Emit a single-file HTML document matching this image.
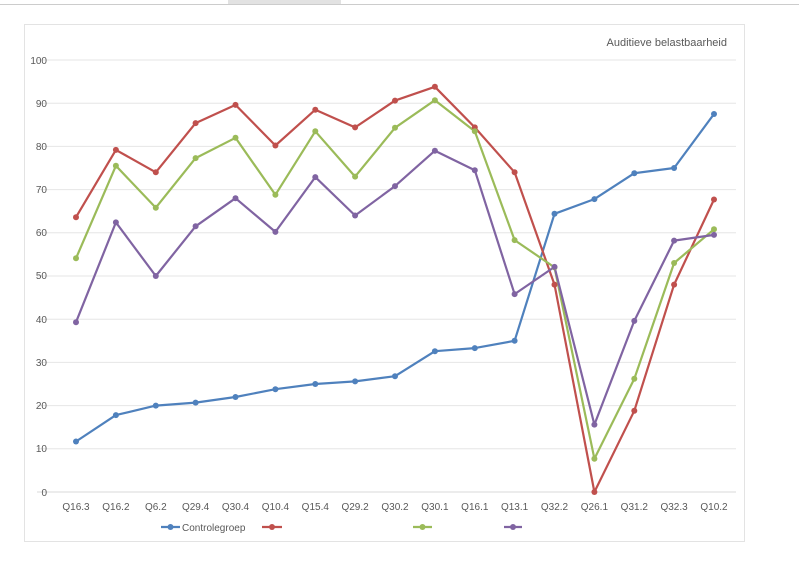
<!DOCTYPE html>
<html><head><meta charset="utf-8"><style>
body{margin:0;background:#fff;width:799px;height:566px;overflow:hidden}
svg{font-family:"Liberation Sans",sans-serif}
</style></head><body>
<svg width="799" height="566" viewBox="0 0 799 566" xmlns="http://www.w3.org/2000/svg">
<line x1="0" y1="4.5" x2="799" y2="4.5" stroke="#ccc" stroke-width="1"/>
<rect x="228" y="0" width="113" height="4" fill="#e2e2e2"/>
<rect x="24.5" y="24.5" width="720" height="517" fill="#fff" stroke="#e3e3e3"/>
<text x="727" y="46" font-size="11" fill="#595959" text-anchor="end">Auditieve belastbaarheid</text>
<g stroke="#e6e6e6" stroke-width="1">
<line x1="37" y1="60" x2="736" y2="60"/><line x1="37" y1="103.2" x2="736" y2="103.2"/>
<line x1="37" y1="146.4" x2="736" y2="146.4"/><line x1="37" y1="189.6" x2="736" y2="189.6"/>
<line x1="37" y1="232.8" x2="736" y2="232.8"/><line x1="37" y1="276" x2="736" y2="276"/>
<line x1="37" y1="319.2" x2="736" y2="319.2"/><line x1="37" y1="362.4" x2="736" y2="362.4"/>
<line x1="37" y1="405.6" x2="736" y2="405.6"/><line x1="37" y1="448.8" x2="736" y2="448.8"/>
<line x1="37" y1="492" x2="736" y2="492" stroke="#d9d9d9"/>
</g>
<g font-size="10" fill="#595959" text-anchor="end">
<text x="47" y="64">100</text><text x="47" y="107">90</text><text x="47" y="150">80</text>
<text x="47" y="193">70</text><text x="47" y="236">60</text><text x="47" y="279">50</text>
<text x="47" y="323">40</text><text x="47" y="366">30</text><text x="47" y="409">20</text>
<text x="47" y="452">10</text><text x="47" y="496">0</text>
</g>
<g font-size="10" fill="#595959" text-anchor="middle">
<text x="76" y="510">Q16.3</text><text x="115.9" y="510">Q16.2</text><text x="155.8" y="510">Q6.2</text>
<text x="195.6" y="510">Q29.4</text><text x="235.5" y="510">Q30.4</text><text x="275.4" y="510">Q10.4</text>
<text x="315.3" y="510">Q15.4</text><text x="355.1" y="510">Q29.2</text><text x="395" y="510">Q30.2</text>
<text x="434.9" y="510">Q30.1</text><text x="474.8" y="510">Q16.1</text><text x="514.6" y="510">Q13.1</text>
<text x="554.5" y="510">Q32.2</text><text x="594.4" y="510">Q26.1</text><text x="634.3" y="510">Q31.2</text>
<text x="674.1" y="510">Q32.3</text><text x="714" y="510">Q10.2</text>
</g>
<g fill="none" stroke-width="2.2" stroke-linejoin="round">
<polyline id="b" stroke="#4f81bd" points="76,441.5 115.9,415.1 155.8,405.6 195.6,402.6 235.5,397 275.4,389.2 315.3,384 355.1,381.4 395,376.2 434.9,351.2 474.8,348.1 514.6,340.8 554.5,213.8 594.4,199.1 634.3,173.2 674.1,168 714,114"/>
<polyline stroke="#c0504d" points="76,217.2 115.9,149.9 155.8,172.3 195.6,123.1 235.5,104.9 275.4,145.5 315.3,109.7 355.1,127.4 395,100.6 434.9,86.8 474.8,127.4 514.6,172.3 554.5,284.6 594.4,492 634.3,410.8 674.1,284.6 714,199.5"/>
<polyline stroke="#9bbb59" points="76,258.3 115.9,165.8 155.8,207.7 195.6,158.1 235.5,137.8 275.4,194.8 315.3,131.3 355.1,176.6 395,127.8 434.9,100.2 474.8,131.3 514.6,240.1 554.5,267.4 594.4,458.7 634.3,378.8 674.1,263 714,229.3"/>
<polyline stroke="#8064a2" points="76,322.2 115.9,222.4 155.8,276 195.6,226.3 235.5,198.2 275.4,231.9 315.3,177.1 355.1,215.5 395,186.1 434.9,150.7 474.8,170.2 514.6,294.1 554.5,266.9 594.4,424.6 634.3,320.9 674.1,240.6 714,234.9"/>
</g>
<g fill="#4f81bd"><circle cx="76" cy="441.5" r="3"/><circle cx="115.9" cy="415.1" r="3"/><circle cx="155.8" cy="405.6" r="3"/><circle cx="195.6" cy="402.6" r="3"/><circle cx="235.5" cy="397" r="3"/><circle cx="275.4" cy="389.2" r="3"/><circle cx="315.3" cy="384" r="3"/><circle cx="355.1" cy="381.4" r="3"/><circle cx="395" cy="376.2" r="3"/><circle cx="434.9" cy="351.2" r="3"/><circle cx="474.8" cy="348.1" r="3"/><circle cx="514.6" cy="340.8" r="3"/><circle cx="554.5" cy="213.8" r="3"/><circle cx="594.4" cy="199.1" r="3"/><circle cx="634.3" cy="173.2" r="3"/><circle cx="674.1" cy="168" r="3"/><circle cx="714" cy="114" r="3"/></g>
<g fill="#c0504d"><circle cx="76" cy="217.2" r="3"/><circle cx="115.9" cy="149.9" r="3"/><circle cx="155.8" cy="172.3" r="3"/><circle cx="195.6" cy="123.1" r="3"/><circle cx="235.5" cy="104.9" r="3"/><circle cx="275.4" cy="145.5" r="3"/><circle cx="315.3" cy="109.7" r="3"/><circle cx="355.1" cy="127.4" r="3"/><circle cx="395" cy="100.6" r="3"/><circle cx="434.9" cy="86.8" r="3"/><circle cx="474.8" cy="127.4" r="3"/><circle cx="514.6" cy="172.3" r="3"/><circle cx="554.5" cy="284.6" r="3"/><circle cx="594.4" cy="492" r="3"/><circle cx="634.3" cy="410.8" r="3"/><circle cx="674.1" cy="284.6" r="3"/><circle cx="714" cy="199.5" r="3"/></g>
<g fill="#9bbb59"><circle cx="76" cy="258.3" r="3"/><circle cx="115.9" cy="165.8" r="3"/><circle cx="155.8" cy="207.7" r="3"/><circle cx="195.6" cy="158.1" r="3"/><circle cx="235.5" cy="137.8" r="3"/><circle cx="275.4" cy="194.8" r="3"/><circle cx="315.3" cy="131.3" r="3"/><circle cx="355.1" cy="176.6" r="3"/><circle cx="395" cy="127.8" r="3"/><circle cx="434.9" cy="100.2" r="3"/><circle cx="474.8" cy="131.3" r="3"/><circle cx="514.6" cy="240.1" r="3"/><circle cx="554.5" cy="267.4" r="3"/><circle cx="594.4" cy="458.7" r="3"/><circle cx="634.3" cy="378.8" r="3"/><circle cx="674.1" cy="263" r="3"/><circle cx="714" cy="229.3" r="3"/></g>
<g fill="#8064a2"><circle cx="76" cy="322.2" r="3"/><circle cx="115.9" cy="222.4" r="3"/><circle cx="155.8" cy="276" r="3"/><circle cx="195.6" cy="226.3" r="3"/><circle cx="235.5" cy="198.2" r="3"/><circle cx="275.4" cy="231.9" r="3"/><circle cx="315.3" cy="177.1" r="3"/><circle cx="355.1" cy="215.5" r="3"/><circle cx="395" cy="186.1" r="3"/><circle cx="434.9" cy="150.7" r="3"/><circle cx="474.8" cy="170.2" r="3"/><circle cx="514.6" cy="294.1" r="3"/><circle cx="554.5" cy="266.9" r="3"/><circle cx="594.4" cy="424.6" r="3"/><circle cx="634.3" cy="320.9" r="3"/><circle cx="674.1" cy="240.6" r="3"/><circle cx="714" cy="234.9" r="3"/></g>
<g stroke-width="2.2">
<line x1="161" y1="527" x2="180" y2="527" stroke="#4f81bd"/><circle cx="170.5" cy="527" r="3" fill="#4f81bd"/>
<line x1="262" y1="527" x2="282" y2="527" stroke="#c0504d"/><circle cx="272" cy="527" r="3" fill="#c0504d"/>
<line x1="413" y1="527" x2="432" y2="527" stroke="#9bbb59"/><circle cx="422.5" cy="527" r="3" fill="#9bbb59"/>
<line x1="504" y1="527" x2="522" y2="527" stroke="#8064a2"/><circle cx="513" cy="527" r="3" fill="#8064a2"/>
</g>
<text x="182" y="531" font-size="10" fill="#595959">Controlegroep</text>
</svg>
</body></html>
